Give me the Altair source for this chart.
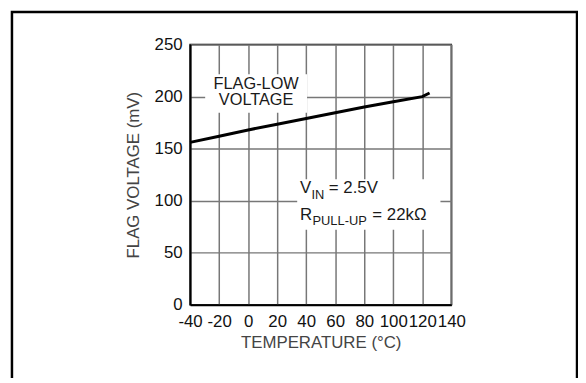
import altair as alt
import pandas as pd

# ---- data ----
temps = [-40, -20, 0, 20, 40, 60, 80, 100, 120, 125]
flag_mv = [156, 162, 168, 173.5, 179, 184.5, 190, 195, 200, 203.5]

x_ticks = [-40, -20, 0, 20, 40, 60, 80, 100, 120, 140]
y_ticks = [0, 50, 100, 150, 200, 250]

# white label boxes (data coordinates)
box_x = [-29.6, 33.8]
box_x2 = [40.6, 132.5]
box_y = [184.4, 72.2]
box_y2 = [221.5, 120.7]

FONT = "Liberation Sans"

df = pd.DataFrame({"t": temps, "v": flag_mv})
boxes = pd.DataFrame({"x": box_x, "x2": box_x2, "y": box_y, "y2": box_y2})

xs = alt.Scale(domain=[-40, 140], nice=False, zero=False)
ys = alt.Scale(domain=[0, 250], nice=False)

xaxis = alt.Axis(values=x_ticks, ticks=False, labelPadding=9, labelFontSize=17,
                 labelColor="#111", titleFontSize=17, titleColor="#444",
                 titleFontWeight="normal", titlePadding=5, domainColor="#000",
                 domainWidth=2, gridColor="#777", gridWidth=1.5,
                 labelFont=FONT, titleFont=FONT, labelFlush=False, labelOverlap=False,
                 labelExpr="datum.value + ''")
yaxis = alt.Axis(values=y_ticks, ticks=False, labelPadding=8, labelFontSize=17,
                 labelColor="#111", titleFontSize=17, titleColor="#444",
                 titleFontWeight="normal", titlePadding=12, domainColor="#000",
                 domainWidth=2, gridColor="#777", gridWidth=1.5,
                 labelFont=FONT, titleFont=FONT, labelExpr="datum.value + ''")

XT = "TEMPERATURE (°C)"
YT = "FLAG VOLTAGE (mV)"


def X(field):
    return alt.X(field, scale=xs, axis=xaxis, title=XT)


def Y(field):
    return alt.Y(field, scale=ys, axis=yaxis, title=YT)


line = alt.Chart(df).mark_line(color="black", strokeWidth=3).encode(
    x=X("t:Q"), y=Y("v:Q"),
)

box_layer = alt.Chart(boxes).mark_rect(color="white").encode(
    x=X("x:Q"), x2="x2:Q", y=Y("y:Q"), y2="y2:Q",
)


def txt(t, x, y, size=17, align="center", dx=0, dy=0):
    return alt.Chart(pd.DataFrame({"x": [x], "y": [y], "s": [t]})).mark_text(
        font=FONT, fontSize=size, color="#1a1a1a", align=align,
        baseline="alphabetic", dx=dx, dy=dy
    ).encode(x=X("x:Q"), y=Y("y:Q"), text="s:N")


# annotation text
ann_x = 35.8
vin_y = 107.4
rp_y = 81.7
labels = [
    txt("FLAG-LOW", 5.5, 207.5, size=16.5),
    txt("VOLTAGE", 5.5, 191.5, size=16.5),
    txt("V", ann_x, vin_y, align="left"),
    txt("IN", ann_x, vin_y, size=13, align="left", dx=11.5, dy=6),
    txt("= 2.5V", ann_x, vin_y, align="left", dx=29),
    txt("R", ann_x, rp_y, align="left"),
    txt("PULL-UP", ann_x, rp_y, size=13, align="left", dx=12.5, dy=5),
    txt("= 22kΩ", ann_x, rp_y, align="left", dx=73),
]

frame = alt.Chart(alt.Data(values=[{}])).mark_rect(
    fill="white", fillOpacity=0, stroke="black", strokeWidth=2.5
).encode(
    x=alt.value(-180), x2=alt.value(391), y=alt.value(-33), y2=alt.value(345)
)

chart = alt.layer(box_layer, line, frame, *labels).properties(
    width=264, height=263,
    autosize=alt.AutoSizeParams(type="none"),
    padding={"left": 184, "top": 35, "right": 128, "bottom": 72},
    background="white",
).configure_view(stroke="black", strokeWidth=1.5)

chart.save("out.html", embed_options={"renderer": "svg", "actions": False})
